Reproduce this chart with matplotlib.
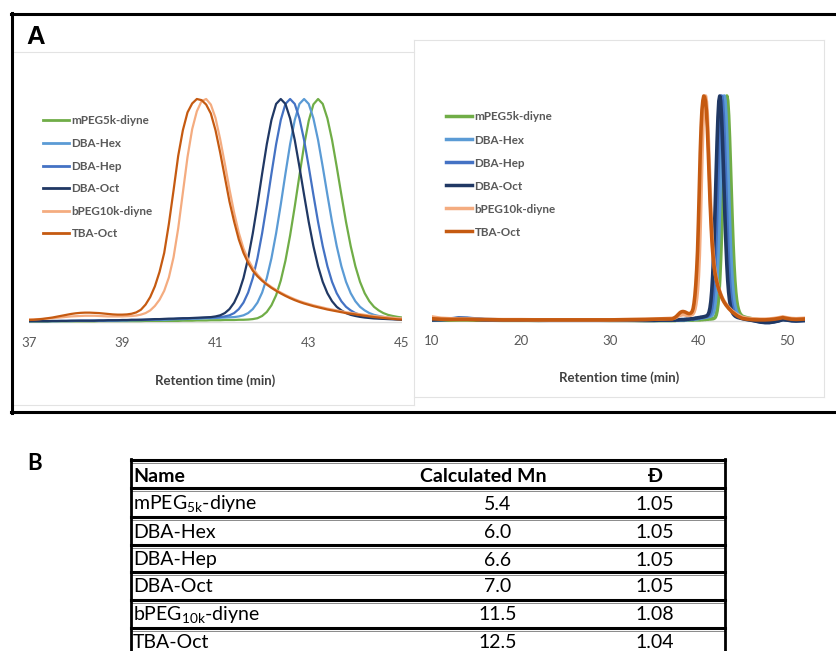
import numpy as np
import matplotlib
matplotlib.use("Agg")
import matplotlib.pyplot as plt
from matplotlib.lines import Line2D

# ---------------- data ----------------
names = ["mPEG5k-diyne", "DBA-Hex", "DBA-Hep", "DBA-Oct", "bPEG10k-diyne", "TBA-Oct"]
colors = ["#70AD47", "#5B9BD5", "#4472C4", "#203864", "#F4AC80", "#C55A11"]

t_early = [10, 11, 12, 13, 14, 15, 16, 18, 20, 22, 24, 26, 28, 30, 32, 34, 35, 36, 36.5]
t_core = np.linspace(37, 45, 81)
t_late = [45.5, 46, 46.5, 47, 47.5, 48, 48.5, 49, 49.5, 50, 50.5, 51, 51.5, 52]

mpeg_early = [0.005, 0.004, 0.004, 0.005, 0.005, 0.004, 0.004, 0.003, 0.003, 0.003, 0.004, 0.004, 0.004, 0.003, 0.003, 0.002, 0.002, 0.002, 0.002]
hex_early = [0.006, 0.006, 0.008, 0.012, 0.011, 0.008, 0.006, 0.005, 0.005, 0.004, 0.004, 0.004, 0.004, 0.004, 0.004, 0.003, 0.003, 0.003, 0.003]
hep_early = [0.006, 0.007, 0.009, 0.013, 0.012, 0.009, 0.006, 0.005, 0.004, 0.004, 0.004, 0.004, 0.004, 0.004, 0.004, 0.003, 0.003, 0.004, 0.004]
oct_early = [0.005, 0.006, 0.008, 0.011, 0.010, 0.007, 0.005, 0.004, 0.004, 0.003, 0.003, 0.003, 0.003, 0.003, 0.003, 0.003, 0.003, 0.004, 0.004]
bpeg_early = [0.018, 0.012, 0.010, 0.009, 0.009, 0.008, 0.007, 0.006, 0.006, 0.005, 0.005, 0.005, 0.005, 0.005, 0.006, 0.007, 0.008, 0.010, 0.011]
tba_early = [0.010, 0.008, 0.007, 0.007, 0.007, 0.006, 0.006, 0.005, 0.005, 0.005, 0.005, 0.005, 0.005, 0.005, 0.006, 0.007, 0.008, 0.009, 0.009]

mpeg_core = [0.002, 0.002, 0.002, 0.002, 0.002, 0.003, 0.003, 0.003, 0.003, 0.003,
             0.003, 0.003, 0.003, 0.003, 0.003, 0.004, 0.004, 0.004, 0.004, 0.004,
             0.004, 0.004, 0.004, 0.004, 0.004, 0.005, 0.005, 0.005, 0.005, 0.005,
             0.005, 0.005, 0.005, 0.006, 0.006, 0.006, 0.007, 0.007, 0.007, 0.008,
             0.008, 0.008, 0.009, 0.009, 0.009, 0.010, 0.010, 0.011, 0.013, 0.017,
             0.027, 0.045, 0.075, 0.120, 0.186, 0.275, 0.388, 0.518, 0.657, 0.792,
             0.903, 0.976, 1.000, 0.978, 0.913, 0.816, 0.696, 0.570, 0.448, 0.340,
             0.250, 0.180, 0.129, 0.093, 0.068, 0.052, 0.040, 0.032, 0.027, 0.023,
             0.020]
hex_core = [0.003, 0.004, 0.004, 0.004, 0.004, 0.004, 0.004, 0.004, 0.004, 0.004,
            0.005, 0.005, 0.005, 0.005, 0.006, 0.006, 0.006, 0.006, 0.006, 0.006,
            0.007, 0.007, 0.008, 0.008, 0.008, 0.009, 0.009, 0.010, 0.010, 0.010,
            0.011, 0.012, 0.013, 0.013, 0.014, 0.015, 0.015, 0.016, 0.017, 0.017,
            0.018, 0.019, 0.020, 0.021, 0.022, 0.025, 0.030, 0.040, 0.058, 0.087,
            0.132, 0.197, 0.286, 0.398, 0.527, 0.665, 0.797, 0.906, 0.978, 1.000,
            0.978, 0.913, 0.816, 0.696, 0.570, 0.448, 0.340, 0.250, 0.180, 0.129,
            0.093, 0.068, 0.052, 0.040, 0.032, 0.027, 0.023, 0.020, 0.018, 0.016,
            0.015]
hep_core = [0.004, 0.004, 0.004, 0.004, 0.004, 0.004, 0.004, 0.005, 0.005, 0.005,
            0.005, 0.006, 0.006, 0.006, 0.006, 0.006, 0.006, 0.007, 0.007, 0.008,
            0.008, 0.008, 0.009, 0.009, 0.010, 0.010, 0.010, 0.011, 0.012, 0.013,
            0.013, 0.014, 0.015, 0.015, 0.016, 0.017, 0.017, 0.018, 0.019, 0.020,
            0.021, 0.022, 0.025, 0.030, 0.040, 0.058, 0.087, 0.132, 0.197, 0.286,
            0.398, 0.527, 0.665, 0.797, 0.906, 0.978, 1.000, 0.978, 0.913, 0.816,
            0.696, 0.570, 0.448, 0.340, 0.250, 0.180, 0.129, 0.093, 0.068, 0.052,
            0.040, 0.032, 0.027, 0.023, 0.020, 0.018, 0.016, 0.015, 0.014, 0.013,
            0.012]
oct_core = [0.004, 0.004, 0.004, 0.004, 0.004, 0.005, 0.005, 0.005, 0.005, 0.006,
            0.006, 0.006, 0.006, 0.006, 0.006, 0.007, 0.007, 0.008, 0.008, 0.008,
            0.009, 0.009, 0.010, 0.010, 0.010, 0.011, 0.012, 0.013, 0.013, 0.014,
            0.015, 0.015, 0.016, 0.017, 0.017, 0.018, 0.019, 0.020, 0.021, 0.022,
            0.025, 0.030, 0.040, 0.058, 0.087, 0.132, 0.197, 0.286, 0.398, 0.527,
            0.665, 0.797, 0.906, 0.978, 1.000, 0.978, 0.913, 0.816, 0.696, 0.570,
            0.448, 0.340, 0.250, 0.180, 0.129, 0.093, 0.068, 0.052, 0.040, 0.032,
            0.027, 0.023, 0.020, 0.018, 0.016, 0.015, 0.014, 0.013, 0.012, 0.011,
            0.010]
bpeg_core = [0.012, 0.012, 0.013, 0.014, 0.015, 0.017, 0.019, 0.021, 0.023, 0.025,
             0.026, 0.027, 0.028, 0.028, 0.028, 0.027, 0.026, 0.025, 0.025, 0.025,
             0.025, 0.026, 0.027, 0.029, 0.033, 0.040, 0.052, 0.072, 0.100, 0.140,
             0.200, 0.290, 0.420, 0.580, 0.740, 0.865, 0.945, 0.990, 1.000, 0.975,
             0.915, 0.820, 0.710, 0.595, 0.490, 0.400, 0.330, 0.280, 0.242, 0.213,
             0.190, 0.172, 0.157, 0.144, 0.132, 0.121, 0.111, 0.102, 0.094, 0.087,
             0.081, 0.075, 0.070, 0.065, 0.060, 0.056, 0.052, 0.048, 0.044, 0.041,
             0.038, 0.035, 0.032, 0.029, 0.027, 0.025, 0.023, 0.021, 0.019, 0.017,
             0.016]
tba_core = [0.009, 0.010, 0.012, 0.014, 0.017, 0.020, 0.024, 0.028, 0.032, 0.036,
            0.039, 0.041, 0.042, 0.042, 0.041, 0.040, 0.038, 0.036, 0.034, 0.033,
            0.033, 0.034, 0.037, 0.043, 0.055, 0.078, 0.112, 0.160, 0.225, 0.310,
            0.440, 0.590, 0.745, 0.860, 0.940, 0.980, 1.000, 0.995, 0.975, 0.935,
            0.860, 0.760, 0.650, 0.540, 0.450, 0.370, 0.310, 0.265, 0.230, 0.205,
            0.185, 0.168, 0.153, 0.140, 0.128, 0.117, 0.107, 0.098, 0.090, 0.083,
            0.077, 0.071, 0.066, 0.061, 0.056, 0.052, 0.048, 0.044, 0.040, 0.037,
            0.034, 0.031, 0.028, 0.025, 0.022, 0.020, 0.018, 0.016, 0.014, 0.012,
            0.011]

mpeg_late = [0.014, 0.010, 0.007, 0.004, 0.002, 0.001, 0.002, 0.004, 0.008, 0.006, 0.004, 0.003, 0.004, 0.005]
hex_late = [0.010, 0.006, 0.002, -0.002, -0.004, -0.004, -0.002, 0.002, 0.008, 0.006, 0.003, 0.002, 0.003, 0.004]
hep_late = [0.008, 0.004, 0.000, -0.004, -0.006, -0.006, -0.003, 0.001, 0.007, 0.005, 0.002, 0.001, 0.002, 0.003]
oct_late = [0.006, 0.003, -0.001, -0.005, -0.007, -0.007, -0.004, 0.000, 0.006, 0.004, 0.001, 0.000, 0.001, 0.002]
bpeg_late = [0.012, 0.010, 0.009, 0.008, 0.008, 0.009, 0.011, 0.014, 0.018, 0.014, 0.011, 0.010, 0.011, 0.012]
tba_late = [0.008, 0.006, 0.005, 0.005, 0.005, 0.006, 0.008, 0.011, 0.015, 0.011, 0.008, 0.007, 0.008, 0.009]

left_ticks = [37, 39, 41, 43, 45]
right_ticks = [10, 20, 30, 40, 50]

table_header = ["Name", "Calculated Mn", "\u0110"]
table_names = ["mPEG$_{\\mathregular{5k}}$-diyne", "DBA-Hex", "DBA-Hep", "DBA-Oct",
               "bPEG$_{\\mathregular{10k}}$-diyne", "TBA-Oct"]
table_mn = ["5.4", "6.0", "6.6", "7.0", "11.5", "12.5"]
table_d = ["1.05", "1.05", "1.05", "1.05", "1.08", "1.04"]

# ---------------- assemble ----------------
t_all = np.concatenate([t_early, t_core, t_late])
series = [
    np.concatenate([mpeg_early, mpeg_core, mpeg_late]),
    np.concatenate([hex_early, hex_core, hex_late]),
    np.concatenate([hep_early, hep_core, hep_late]),
    np.concatenate([oct_early, oct_core, oct_late]),
    np.concatenate([bpeg_early, bpeg_core, bpeg_late]),
    np.concatenate([tba_early, tba_core, tba_late]),
]

W, H = 836, 651
fig = plt.figure(figsize=(W / 100, H / 100), dpi=100)
fig.patch.set_facecolor("white")

def fx(px):
    return px / W

def fy(py):
    return 1 - py / H

def hline(x0, x1, y, **kw):
    fig.add_artist(Line2D([fx(x0), fx(x1)], [fy(y), fy(y)], transform=fig.transFigure, **kw))

def vline(x, y0, y1, **kw):
    fig.add_artist(Line2D([fx(x), fx(x)], [fy(y0), fy(y1)], transform=fig.transFigure, **kw))

chart_font = ["Lato", "DejaVu Sans"]
gray_txt = "#595959"

# faint chart panel borders
pc = "#E3E3E3"
hline(13, 414, 52, color=pc, lw=0.8)
vline(414, 40, 405, color=pc, lw=0.8)
hline(13, 414, 405, color=pc, lw=0.8)
hline(414, 824, 40, color=pc, lw=0.8)
hline(414, 824, 397, color=pc, lw=0.8)
vline(824, 40, 397, color=pc, lw=0.8)

# outer frame for panel A
hline(11, 840, 14, color="black", lw=2.2)
hline(11, 840, 412, color="black", lw=2.2)
vline(12, 13, 413, color="black", lw=2.2)

fig.text(fx(26), fy(37), "A", fontsize=18.5, fontweight="bold",
         family=["Liberation Sans", "DejaVu Sans"], va="center", ha="left")

def make_axes(x0, x1, y0_px, y1_px, lo, hi):
    per = y0_px - y1_px
    ylo, yhi = -0.03, 1.03
    bot = y0_px - ylo * per
    top = y0_px - yhi * per
    ax = fig.add_axes([fx(x0), fy(bot), fx(x1) - fx(x0), (bot - top) / H])
    ax.set_xlim(lo, hi)
    ax.set_ylim(ylo, yhi)
    for s in ax.spines.values():
        s.set_visible(False)
    ax.set_yticks([])
    ax.patch.set_alpha(0)
    return ax

leg_prop = {"family": chart_font, "size": 8.4, "weight": "bold"}

# left chart
axL = make_axes(29, 402, 322, 99, 37, 45)
axL.axhline(0, color="#D9D9D9", lw=1.0, zorder=0)
for y, c, n in zip(series, colors, names):
    axL.plot(t_all, y, color=c, lw=1.6, label=n)
axL.set_xticks(left_ticks)
axL.set_xticklabels([str(v) for v in left_ticks])
axL.tick_params(axis="x", length=0, pad=6, labelsize=9.5, labelcolor=gray_txt)
for lab in axL.get_xticklabels():
    lab.set_family(chart_font)
fig.text(fx(215), fy(381), "Retention time (min)", ha="center", va="center",
         fontsize=9.5, fontweight="bold", color="#404040", family=chart_font)
legL = axL.legend(loc="upper left", bbox_to_anchor=(fx(43), fy(115.5)),
                  bbox_transform=fig.transFigure, frameon=False, borderpad=0,
                  borderaxespad=0, handlelength=2.2, handletextpad=0.25,
                  labelspacing=0.99, prop=leg_prop)
for txt in legL.get_texts():
    txt.set_color(gray_txt)
for h in legL.get_lines():
    h.set_linewidth(2.0)

# right chart
axR = make_axes(432, 805, 321, 96, 10, 52)
axR.axhline(0, color="#D9D9D9", lw=1.0, zorder=0)
for y, c, n in zip(series, colors, names):
    axR.plot(t_all, y, color=c, lw=2.6, label=n)
axR.set_xticks(right_ticks)
axR.set_xticklabels([str(v) for v in right_ticks])
axR.tick_params(axis="x", length=0, pad=5.5, labelsize=9.5, labelcolor=gray_txt)
for lab in axR.get_xticklabels():
    lab.set_family(chart_font)
fig.text(fx(619), fy(378), "Retention time (min)", ha="center", va="center",
         fontsize=9.5, fontweight="bold", color="#404040", family=chart_font)
legR = axR.legend(loc="upper left", bbox_to_anchor=(fx(446), fy(111.5)),
                  bbox_transform=fig.transFigure, frameon=False, borderpad=0,
                  borderaxespad=0, handlelength=2.2, handletextpad=0.25,
                  labelspacing=1.03, prop=leg_prop)
for txt in legR.get_texts():
    txt.set_color(gray_txt)
for h in legR.get_lines():
    h.set_linewidth(2.5)

# ---------------- panel B: table ----------------
fig.text(fx(27), fy(464), "B", fontsize=16, fontweight="bold",
         family=chart_font, va="center", ha="left")

tbl_font = ["Lato", "DejaVu Sans"]
row_lines = [460, 488, 517, 545, 572, 600, 628]
tx0, tx1 = 131, 725
for y in row_lines:
    hline(tx0, tx1, y, color="black", lw=2.2)
    hline(tx0, tx1, y + 2.5, color="#777777", lw=0.6)
vline(tx0, 459, 660, color="black", lw=2.0)
vline(tx1, 459, 660, color="black", lw=2.0)

fs = 14
hy = 476
fig.text(fx(133), fy(hy), table_header[0], fontsize=fs, fontweight="bold",
         family=tbl_font, ha="left", va="center")
fig.text(fx(483), fy(hy), table_header[1], fontsize=fs, fontweight="bold",
         family=tbl_font, ha="center", va="center")
fig.text(fx(655), fy(hy), table_header[2], fontsize=fs, fontweight="bold",
         family=tbl_font, ha="center", va="center")
row_centers = [504, 532, 560, 587, 615, 643]
for yc, n, mn, d in zip(row_centers, table_names, table_mn, table_d):
    fig.text(fx(133), fy(yc), n, fontsize=fs, family=tbl_font, ha="left", va="center")
    fig.text(fx(498), fy(yc), mn, fontsize=fs, family=tbl_font, ha="center", va="center")
    fig.text(fx(655), fy(yc), d, fontsize=fs, family=tbl_font, ha="center", va="center")

fig.savefig("out.png", dpi=100, facecolor="white")
